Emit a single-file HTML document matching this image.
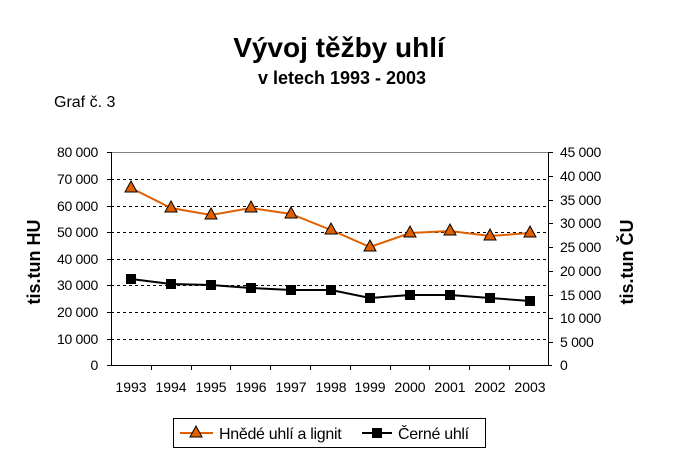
<!DOCTYPE html><html><head><style>body{margin:0;background:#fff}svg{display:block}text{font-family:"Liberation Sans",Arial,sans-serif}</style></head><body>
<svg width="679" height="462" viewBox="0 0 679 462" xmlns="http://www.w3.org/2000/svg">
<rect width="679" height="462" fill="#fff"/>
<text x="339" y="57" font-size="28" font-weight="bold" text-anchor="middle">Vývoj těžby uhlí</text>
<text x="342" y="84" font-size="18" font-weight="bold" text-anchor="middle">v letech 1993 - 2003</text>
<text x="54" y="107" font-size="16">Graf č. 3</text>
<g stroke="#000" stroke-dasharray="3,3" stroke-width="1">
<line x1="111" x2="549" y1="179.5" y2="179.5"/><line x1="111" x2="549" y1="206.5" y2="206.5"/><line x1="111" x2="549" y1="232.5" y2="232.5"/><line x1="111" x2="549" y1="259.5" y2="259.5"/><line x1="111" x2="549" y1="285.5" y2="285.5"/><line x1="111" x2="549" y1="312.5" y2="312.5"/><line x1="111" x2="549" y1="339.5" y2="339.5"/>
</g>
<line x1="111" x2="549" y1="152.5" y2="152.5" stroke="#808080"/>
<g stroke="#000" fill="none">
<line x1="111.5" x2="111.5" y1="152" y2="366"/><line x1="548.5" x2="548.5" y1="152" y2="366"/><line x1="107" x2="552" y1="365.5" y2="365.5"/>
<path d="M107 152.5h4M107 179.5h4M107 206.5h4M107 232.5h4M107 259.5h4M107 285.5h4M107 312.5h4M107 339.5h4"/>
<path d="M549 152.5h4M549 176.5h4M549 200.5h4M549 223.5h4M549 247.5h4M549 271.5h4M549 295.5h4M549 318.5h4M549 342.5h4"/>
<path d="M151.5 366v4M191.5 366v4M230.5 366v4M270.5 366v4M310.5 366v4M350.5 366v4M390.5 366v4M429.5 366v4M469.5 366v4M509.5 366v4"/>
</g>
<g font-size="14" text-anchor="end" letter-spacing="-0.3">
<text x="98" y="157">80 000</text><text x="98" y="184">70 000</text><text x="98" y="211">60 000</text><text x="98" y="237">50 000</text><text x="98" y="264">40 000</text><text x="98" y="290">30 000</text><text x="98" y="317">20 000</text><text x="98" y="344">10 000</text><text x="98" y="370">0</text>
</g>
<g font-size="14" text-anchor="start" letter-spacing="-0.3">
<text x="560" y="157">45 000</text><text x="560" y="181">40 000</text><text x="560" y="205">35 000</text><text x="560" y="228">30 000</text><text x="560" y="252">25 000</text><text x="560" y="276">20 000</text><text x="560" y="300">15 000</text><text x="560" y="323">10 000</text><text x="560" y="347">5 000</text><text x="560" y="370">0</text>
</g>
<g font-size="14" text-anchor="middle">
<text x="131" y="392">1993</text><text x="171" y="392">1994</text><text x="211" y="392">1995</text><text x="251" y="392">1996</text><text x="291" y="392">1997</text><text x="331" y="392">1998</text><text x="370" y="392">1999</text><text x="410" y="392">2000</text><text x="450" y="392">2001</text><text x="490" y="392">2002</text><text x="530" y="392">2003</text>
</g>
<text transform="translate(40,262) rotate(-90)" font-size="18" font-weight="bold" text-anchor="middle">tis.tun HU</text>
<text transform="translate(633,262) rotate(-90)" font-size="18" font-weight="bold" text-anchor="middle">tis.tun ČU</text>
<polyline fill="none" stroke="#E06000" stroke-width="2" points="131,188 171,208 211,215 251,208 291,214 331,230 370,247 410,233 450,231 490,236 530,233"/>
<g fill="#E06000" stroke="#000" stroke-width="1">
<path d="M131,181 l6,11 h-12z"/><path d="M171,201 l6,11 h-12z"/><path d="M211,208 l6,11 h-12z"/><path d="M251,201 l6,11 h-12z"/><path d="M291,207 l6,11 h-12z"/><path d="M331,223 l6,11 h-12z"/><path d="M370,240 l6,11 h-12z"/><path d="M410,226 l6,11 h-12z"/><path d="M450,224 l6,11 h-12z"/><path d="M490,229 l6,11 h-12z"/><path d="M530,226 l6,11 h-12z"/>
</g>
<polyline fill="none" stroke="#000" stroke-width="2" points="131,279 171,284 211,285 251,288 291,290 331,290 370,298 410,295 450,295 490,298 530,301"/>
<g fill="#000">
<rect x="126" y="274" width="10" height="10"/><rect x="166" y="279" width="10" height="10"/><rect x="206" y="280" width="10" height="10"/><rect x="246" y="283" width="10" height="10"/><rect x="286" y="285" width="10" height="10"/><rect x="326" y="285" width="10" height="10"/><rect x="365" y="293" width="10" height="10"/><rect x="405" y="290" width="10" height="10"/><rect x="445" y="290" width="10" height="10"/><rect x="485" y="293" width="10" height="10"/><rect x="525" y="296" width="10" height="10"/>
</g>
<rect x="173.5" y="418.5" width="312" height="29" fill="#fff" stroke="#000"/>
<line x1="180" x2="213" y1="433" y2="433" stroke="#E06000" stroke-width="2"/>
<path d="M196,426 l6,11 h-12z" fill="#E06000" stroke="#000"/>
<text x="219" y="439" font-size="16" letter-spacing="-0.3">Hnědé uhlí a lignit</text>
<line x1="362" x2="392" y1="433" y2="433" stroke="#000" stroke-width="2"/>
<rect x="372" y="428" width="10" height="10" fill="#000"/>
<text x="398" y="439" font-size="16" letter-spacing="-0.3">Černé uhlí</text>
</svg>
</body></html>
